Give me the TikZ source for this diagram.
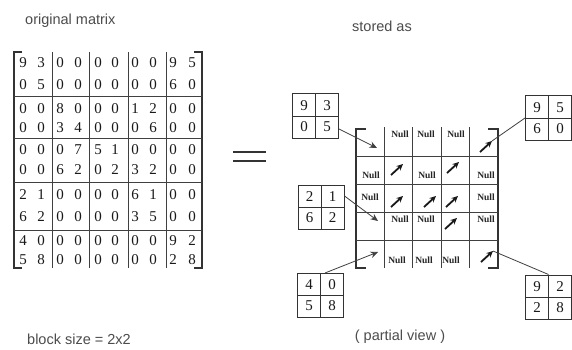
\documentclass[tikz,border=0pt]{standalone}
\usepackage{fontspec}
\setmainfont{Liberation Serif}
\newfontfamily\labelfont{Liberation Sans}
\usetikzlibrary{arrows.meta}
\begin{document}
\begin{tikzpicture}[x=1pt,y=-1pt,
  dig/.style={font=\fontsize{15}{15}\selectfont, text=black!90, inner sep=0},
  lbl/.style={font=\labelfont\fontsize{14.5}{14.5}\selectfont, text=black!70, inner sep=0},
  nul/.style={font=\fontsize{9.5}{9.5}\selectfont\bfseries, text=black!85, inner sep=0},
  mline/.style={line width=1pt, draw=black!75},
  brk/.style={line width=1.3pt, draw=black!80},
  smallbox/.style={draw=black!80, line width=1pt, minimum width=46pt, minimum height=44pt, inner sep=0,
    path picture={\draw[line width=0.9pt,black!80] (path picture bounding box.north) -- (path picture bounding box.south);
                  \draw[line width=0.9pt,black!80] (path picture bounding box.west) -- (path picture bounding box.east);}},
  cellarrow/.style={-{Stealth[length=6.5pt,width=6pt]}, line width=1.8pt, draw=black!90},
  ptr/.style={line width=0.8pt, draw=black!75},
  ptrhead/.style={ptr, -{Stealth[length=7.5pt,width=6.5pt]}}
]
\useasboundingbox (0,0) rectangle (572,350);
\fill[white] (0,0) rectangle (572,350);

% ---------- labels ----------
\node[lbl, anchor=west] (tOrig) at (25,21) {original matrix};
\node[lbl] (tStored) at (382,26) {stored as};
\node[lbl, anchor=west] (tBlock) at (27,339) {block size = 2x2};
\node[lbl] (tPartial) at (400,337) {( partial view )};

% ---------- original matrix ----------
\draw[brk] (22,52) -- (14,52) -- (14,268) -- (22,268);
\draw[brk] (194,52) -- (202,52) -- (202,268) -- (194,268);
\foreach \xv in {52,89,128,166} \draw[mline] (\xv,52) -- (\xv,268);
\foreach \yv in {97,138,182,230} \draw[mline] (14,\yv) -- (202,\yv);
\foreach \row [count=\i] in {
  {9,3,0,0,0,0,0,0,9,5},
  {0,5,0,0,0,0,0,0,6,0},
  {0,0,8,0,0,0,1,2,0,0},
  {0,0,3,4,0,0,0,6,0,0},
  {0,0,0,7,5,1,0,0,0,0},
  {0,0,6,2,0,2,3,2,0,0},
  {2,1,0,0,0,0,6,1,0,0},
  {6,2,0,0,0,0,3,5,0,0},
  {4,0,0,0,0,0,0,0,9,2},
  {5,8,0,0,0,0,0,0,2,8}} {
  \foreach \d [count=\j] in \row {
    \pgfmathsetmacro\xx{{23,41,60,78,98,115,135,153,173,192}[\j-1]}
    \pgfmathsetmacro\yy{{63,85,109,128,150,170,195,217,241,260}[\i-1]}
    \node[dig] (m-\i-\j) at (\xx,\yy) {\d};
  }
}

% ---------- equals sign ----------
\draw[line width=1.4pt, black!80] (233,152) -- (266,152);
\draw[line width=1.4pt, black!80] (233,161) -- (266,161);

% ---------- stored grid ----------
\draw[brk] (366,129) -- (356,129) -- (356,268) -- (366,268);
\draw[brk] (488,129) -- (498,129) -- (498,268) -- (488,268);
\foreach \xv in {384.4,412.8,441.2,469.6} \draw[mline] (\xv,127) -- (\xv,268);
\foreach \yv in {156.8,184.6,212.4,240.2} \draw[mline] (356,\yv) -- (498,\yv);

% Null entries
\foreach \p [count=\k] in {(400,134),(426,134),(456,134),
                          (371,175),(427,175),(486,175),
                          (370,197),(486,197),
                          (400,219),(426,219),(486,219),
                          (397,260),(424,260),(451,260)}
  \node[nul] (null\k) at \p {Null};

% cell pointers (partial)
\coordinate (a22s) at (391,175); \coordinate (a22e) at (403,164);
\coordinate (a24s) at (447,173); \coordinate (a24e) at (459,162);
\coordinate (a32s) at (391,207); \coordinate (a32e) at (403,196);
\coordinate (a33s) at (424,207); \coordinate (a33e) at (436,196);
\coordinate (a34s) at (446,207); \coordinate (a34e) at (458,196);
\coordinate (a44s) at (445,229); \coordinate (a44e) at (457,218);
\coordinate (a15s) at (480,152); \coordinate (a15e) at (492,141);
\coordinate (a55s) at (481,262); \coordinate (a55e) at (493,251);
\foreach \c in {22,24,32,33,34,44,15,55}
  \draw[cellarrow] (a\c s) -- (a\c e);

% ---------- stored blocks ----------
\node[smallbox] (b93) at (315.5,116) {};
\node[dig] at (304,105.5) {9}; \node[dig] at (327,105.5) {3};
\node[dig] at (304,127) {0};   \node[dig] at (327,127) {5};

\node[smallbox] (b95) at (548.5,118) {};
\node[dig] at (537,107.5) {9}; \node[dig] at (560,107.5) {5};
\node[dig] at (537,129) {6};   \node[dig] at (560,129) {0};

\node[smallbox] (b21) at (321,207) {};
\node[dig] at (309.5,196.5) {2}; \node[dig] at (332.5,196.5) {1};
\node[dig] at (309.5,218) {6};   \node[dig] at (332.5,218) {2};

\node[smallbox] (b40) at (320.5,295) {};
\node[dig] at (309,284.5) {4}; \node[dig] at (332,284.5) {0};
\node[dig] at (309,306) {5};   \node[dig] at (332,306) {8};

\node[smallbox] (b92) at (548.5,297) {};
\node[dig] at (537,286.5) {9}; \node[dig] at (560,286.5) {2};
\node[dig] at (537,308) {2};   \node[dig] at (560,308) {8};

% ---------- connectors ----------
\coordinate (c11) at (377,148);
\coordinate (c41) at (378,221);
\coordinate (c51) at (378,252);
\draw[ptrhead] (b93.east |- 0,129) -- (c11);
\draw[ptrhead] (b21.east |- 0,196) -- (c41);
\draw[ptrhead] (325,273) -- (c51);
\draw[ptr] (a15e) -- (b95.west);
\draw[ptr] (a55e) -- (b92.north);
\end{tikzpicture}
\end{document}
